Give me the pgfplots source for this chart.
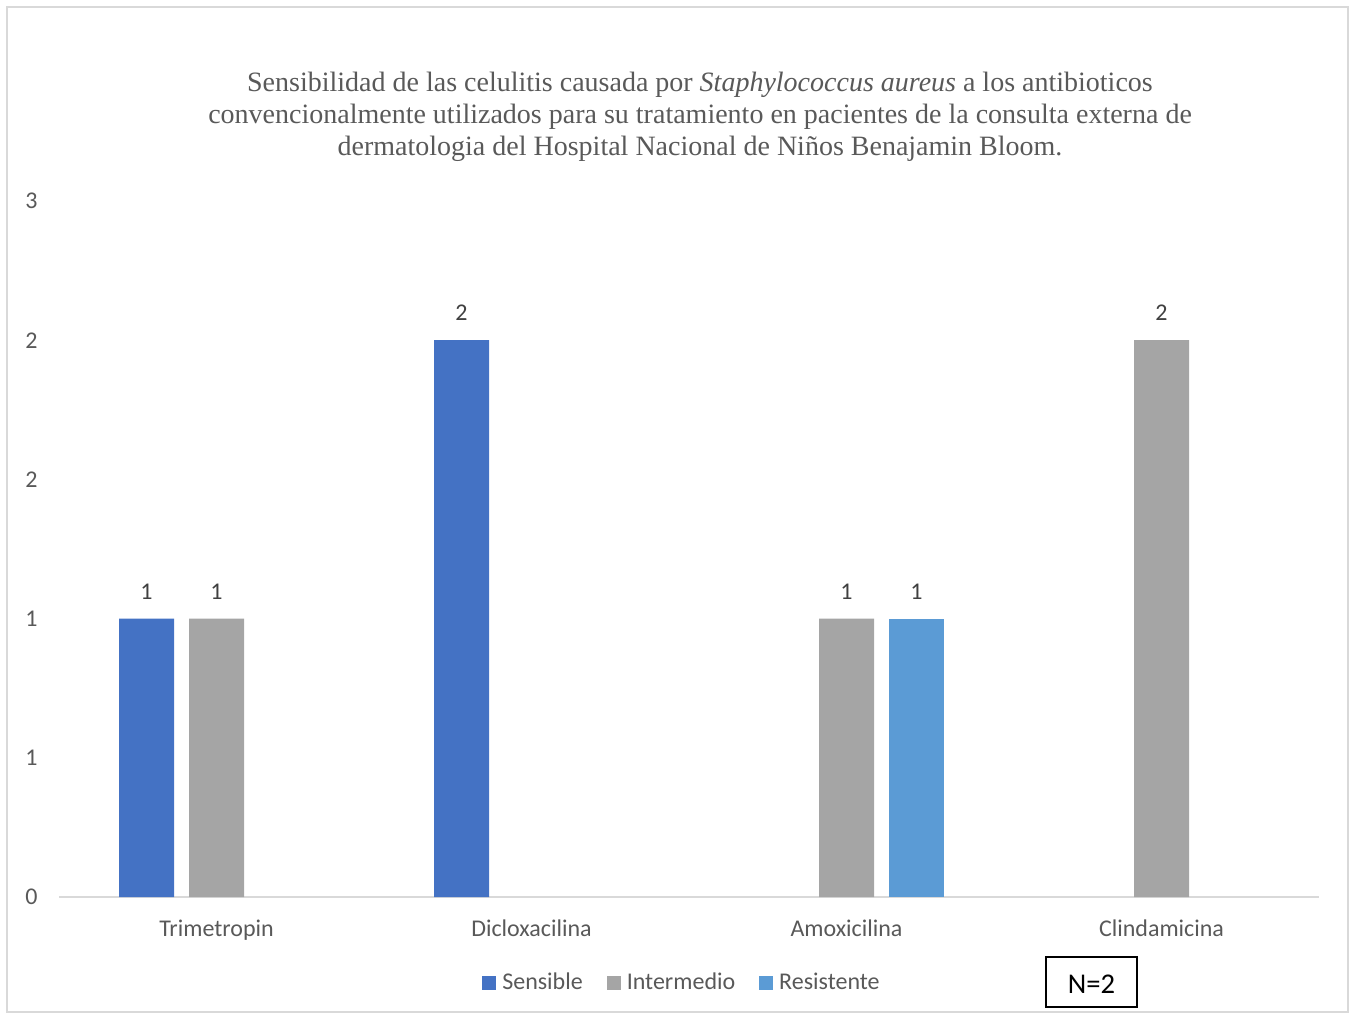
\documentclass[border=0pt]{standalone}
\usepackage{pgfplots}
\pgfplotsset{compat=1.18}
\usepackage{fontspec}
\setmainfont{Liberation Serif}
\newfontfamily\calibri{Carlito}
\definecolor{sens}{HTML}{4472C4}
\definecolor{inter}{HTML}{A5A5A5}
\definecolor{resis}{HTML}{5B9BD5}
\definecolor{axgray}{HTML}{D9D9D9}
\definecolor{txtgray}{HTML}{595959}
\definecolor{lblgray}{HTML}{404040}

\pgfplotsset{
  sq legend/.style={legend image code/.code={\fill[##1] (0pt,-3.5pt) rectangle (7pt,3.5pt);}},
}

\begin{document}
\begin{tikzpicture}
% frame, title and sample size box (coordinates in px, origin top left)
\begin{scope}[x=0.5pt,y=-0.5pt]
  \path (0,0) rectangle (1353,1014);
  \draw[axgray, line width=1pt] (7,7) rectangle (1348,1012);
  \begin{scope}[every node/.style={txtgray, anchor=base, inner sep=0pt, font=\fontsize{14}{16}\selectfont}]
    \node at (700,91) {Sensibilidad de las celulitis causada por \textit{Staphylococcus aureus} a los antibioticos};
    \node at (700,123) {convencionalmente utilizados para su tratamiento en pacientes de la consulta externa de};
    \node at (700,155) {dermatologia del Hospital Nacional de Niños Benajamin Bloom.};
  \end{scope}
  \draw[black, line width=0.6pt] (1046,957) rectangle (1137,1007);
  \node[font=\calibri\fontsize{14.3}{16}\selectfont, inner sep=0pt] at (1091.5,984) {N=2};
\end{scope}

\begin{axis}[
  at={(29.5pt,-448.5pt)}, anchor=south west,
  scale only axis, width=630pt, height=348pt,
  ymin=0, ymax=2.5, xmin=-0.5, xmax=3.5,
  ybar, bar width=27.5pt,
  separate axis lines,
  axis x line*=bottom, axis y line*=left,
  x axis line style={draw=axgray, line width=0.75pt, -},
  y axis line style={draw=none},
  major tick length=0pt,
  xtick={0,1,2,3},
  xticklabels={Trimetropin,Dicloxacilina,Amoxicilina,Clindamicina},
  ytick={0,0.5,1,1.5,2,2.5},
  yticklabels={0,1,1,2,2,3},
  /pgf/number format/assume math mode=true,
  ticklabel style={font=\calibri\fontsize{12}{14}\selectfont, text=txtgray},
  yticklabel style={inner sep=0pt, xshift=-10.5pt},
  xticklabel style={inner sep=0pt, anchor=base, yshift=-19.5pt},
  nodes near coords,
  every node near coord/.append style={font=\calibri\fontsize{12}{14}\selectfont, text=lblgray, inner sep=0pt, yshift=9.5pt},
  legend columns=3,
  legend style={draw=none, fill=none, at={(0.4944,-0.1236)}, anchor=center,
    font=\calibri\fontsize{12}{14}\selectfont, text=txtgray,
    nodes={inner sep=1pt},
    /tikz/every odd column/.append style={column sep=2pt},
    /tikz/every even column/.append style={column sep=11pt}},
]
\addplot[fill=sens, draw=none, bar shift=-35pt, sq legend] coordinates {(0,1) (1,2)};
\addlegendentry{Sensible}
\addplot[fill=inter, draw=none, bar shift=0pt, sq legend] coordinates {(0,1) (2,1) (3,2)};
\addlegendentry{Intermedio}
\addplot[fill=resis, draw=none, bar shift=35pt, sq legend] coordinates {(2,1)};
\addlegendentry{Resistente}
\end{axis}
\end{tikzpicture}
\end{document}
